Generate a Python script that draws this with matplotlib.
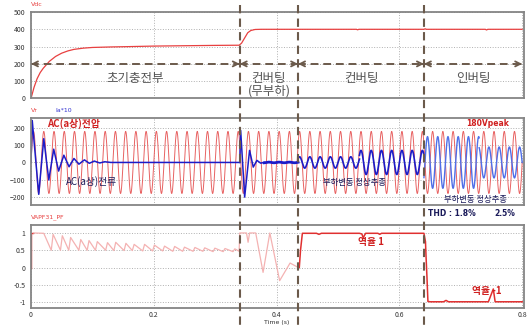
import numpy as np
import matplotlib.pyplot as plt
from matplotlib.lines import Line2D
from matplotlib import transforms

plt.rcParams['font.family'] = ['Noto Sans CJK KR', 'DejaVu Sans']

# 구간 경계 (s)
events = [0.34, 0.435, 0.64]
t_end = 0.8
f_grid = 60.0

# Vdc
vdc_t = [0, 0.005, 0.01, 0.015, 0.02, 0.03, 0.04, 0.05, 0.06, 0.07, 0.085, 0.1, 0.13, 0.16,
         0.2, 0.25, 0.3, 0.339, 0.343, 0.348, 0.353, 0.358, 0.365, 0.375, 0.53, 0.532, 0.534,
         0.64, 0.642, 0.644, 0.74, 0.742, 0.744, 0.8]
vdc_v = [0, 65, 115, 150, 175, 215, 243, 262, 275, 284, 291, 295, 298, 300,
         303, 305, 307, 308, 320, 350, 380, 393, 399, 400, 400, 397, 400,
         400, 403, 400, 400, 396, 400, 400]

# 교류 전압 (a상)
vr_amp = 180

# 전류 과도구간 (극값)
ia_tr1_t = [0, 0.002, 0.0126, 0.0208, 0.029, 0.037, 0.045, 0.0535, 0.062, 0.07, 0.078,
            0.087, 0.095, 0.103, 0.112, 0.12, 0.13, 0.34]
ia_tr1_v = [0, 244, -185, 138, -102, 77, -50, 42, -25, 23, -10, 15, -5, 8, -3, 4, 0, 0]
ia_tr2_t = [0.34, 0.3415, 0.348, 0.356, 0.362, 0.368, 0.374, 0.38]
ia_tr2_v = [0, 186, -201, 70, -27, 12, -4, 0]

# 전류 정상구간 (시작, 끝, 진폭, 위상부호)
ia_seg_start = [0.38, 0.435, 0.535, 0.64, 0.73]
ia_seg_end = [0.435, 0.535, 0.64, 0.73, 0.8]
ia_seg_amp = [2, 33, 70, 150, 90]
ia_seg_sign = [1, 1, 1, -1, -1]
ia_seg_color = ['#1c1cc8', '#1c1cc8', '#1c1cc8', '#4f6fe8', '#4f6fe8']
ia_seg_lw = [2.0, 1.2, 1.2, 1.0, 1.0]

# 역율
pf_peak_t = [0.036, 0.051, 0.0645, 0.081, 0.0945, 0.108, 0.1246, 0.138, 0.1546, 0.168,
             0.185, 0.201, 0.2175, 0.234, 0.25, 0.267, 0.283, 0.2995, 0.316, 0.332]
pf_peak_v = [0.96, 0.92, 0.87, 0.81, 0.78, 0.75, 0.72, 0.73, 0.70, 0.67,
             0.67, 0.65, 0.62, 0.61, 0.59, 0.58, 0.57, 0.56, 0.55, 0.54]
pf_min_v = [0.5, 0.5, 0.5, 0.5, 0.5, 0.5, 0.5, 0.49, 0.49, 0.49,
            0.48, 0.48, 0.48, 0.47, 0.47, 0.47, 0.47, 0.46, 0.46, 0.46]
pf_tr_t = [0.339, 0.340, 0.351, 0.3536, 0.356, 0.366, 0.378, 0.389, 0.405, 0.422, 0.4355]
pf_tr_v = [0.47, 1.0, 1.0, 0.73, 1.0, 1.0, -0.14, 1.0, -0.38, 0.13, 0.0]
pf_on_t = [0.435, 0.437, 0.439, 0.442, 0.465, 0.469, 0.473, 0.535, 0.539, 0.541, 0.545,
           0.565, 0.568, 0.571, 0.640, 0.6425, 0.6435, 0.645, 0.6465, 0.65, 0.672, 0.676,
           0.68, 0.745, 0.753, 0.756, 0.76, 0.8]
pf_on_v = [0.0, 0.0, 0.5, 0.99, 0.99, 0.96, 0.99, 0.99, 0.97, 0.86, 0.99,
           0.99, 0.96, 0.99, 0.99, 0.75, 0.3, -0.3, -0.98, -0.99, -0.99, -0.95,
           -0.99, -0.99, -0.62, -0.99, -0.99, -0.99]
pf_ticks = [-1, -0.5, 0, 0.5, 1]
pf_ticklabels = ['-1', '-0.5', '0', '0.5', '1']

W, H = 528, 326
fig = plt.figure(figsize=(W / 100, H / 100), dpi=100)

def px_axes(x0, y0, x1, y1):
    return fig.add_axes([x0 / W, 1 - y1 / H, (x1 - x0) / W, (y1 - y0) / H])

ax1 = px_axes(31, 12, 524, 98.5)
ax2 = px_axes(31, 118, 524, 205)
ax3 = px_axes(31, 225, 524, 308)

for ax in (ax1, ax2, ax3):
    ax.set_xlim(0, 0.803)
    ax.set_xticks([0, 0.2, 0.4, 0.6, 0.8])
    ax.grid(True, linestyle=':', color='#b0b0b0', linewidth=0.7)
    ax.tick_params(length=0, labelsize=5, labelcolor='#333333', pad=4)
    ax.tick_params(axis='x', pad=2)
    for s in ax.spines.values():
        s.set_color('#858585')
        s.set_linewidth(1.3)
ax1.tick_params(labelbottom=False)
ax2.tick_params(labelbottom=False)

# Vdc
ax1.plot(vdc_t, vdc_v, color='#e84040', lw=0.9)
ax1.set_ylim(0, 500)
ax1.set_yticks([0, 100, 200, 300, 400, 500])

brown = '#6b5a4b'
bounds = [0] + events + [t_end]
for a, b in zip(bounds[:-1], bounds[1:]):
    ax1.plot([a, b], [200, 200], color=brown, lw=1.4, ls=(0, (4, 2.5)))
    for x, d in ((a, -1), (b, 1)):
        ax1.annotate('', xy=(x, 200), xytext=(x - d * 0.004, 200),
                     arrowprops=dict(arrowstyle='->', color=brown, lw=1.3,
                                     mutation_scale=9, shrinkA=0, shrinkB=0))
txt = dict(color='#555555', fontsize=9, ha='center', va='center')
ax1.text((bounds[0] + bounds[1]) / 2, 115, '초기충전부', **txt)
ax1.text((bounds[1] + bounds[2]) / 2, 118, '컨버팅', **txt)
ax1.text((bounds[1] + bounds[2]) / 2, 45, '(무부하)', **txt)
ax1.text((bounds[2] + bounds[3]) / 2, 118, '컨버팅', **txt)
ax1.text((bounds[3] + bounds[4]) / 2, 118, '인버팅', **txt)

# Vr, Ia*10
t = np.linspace(0, t_end, 16001)
ax2.plot(t, vr_amp * np.sin(2 * np.pi * f_grid * t), color='#e86262', lw=0.7)
ax2.plot(ia_tr1_t, ia_tr1_v, color='#1c1cc8', lw=1.1)
ax2.plot(ia_tr2_t, ia_tr2_v, color='#1c1cc8', lw=1.1)
for a, b, amp, sg, c, lw in zip(ia_seg_start, ia_seg_end, ia_seg_amp, ia_seg_sign,
                               ia_seg_color, ia_seg_lw):
    tt = t[(t >= a) & (t <= b)]
    ax2.plot(tt, sg * amp * np.sin(2 * np.pi * f_grid * tt), color=c, lw=lw)
ax2.set_ylim(-247, 258)
ax2.set_yticks([-200, -100, 0, 100, 200])
ax2.text(0.026, 226, 'AC(a상)전압', color='#d02020', fontsize=7, fontweight='bold', va='center')
ax2.text(0.057, -112, 'AC(a상)전류', color='#1a1a5a', fontsize=7, va='center')
ax2.text(0.475, -116, '부하변동 정상추종', color='#1a1a5a', fontsize=6, va='center')
ax2.text(0.672, -215, '부하변동 정상추종', color='#1a1a5a', fontsize=6, va='center')
ax2.text(0.708, 226, '180Vpeak', color='#d02020', fontsize=5.5, fontweight='bold', va='center',
         family='DejaVu Sans')

# PF
saw_t, saw_v = [0, 0, 0.004], [0, 1, 1]
ax3.plot(saw_t, saw_v, color='#e03030', lw=1.0)
pink_t, pink_v = [0.004, 0.0208], [1.0, 0.99]
for pt, pv, mv in zip(pf_peak_t, pf_peak_v, pf_min_v):
    pink_t += [pt - 0.003, pt]
    pink_v += [mv, pv]
pink_t += pf_tr_t
pink_v += pf_tr_v
ax3.plot(pink_t, pink_v, color='#f4b2b2', lw=0.9)
ax3.plot(pf_on_t, pf_on_v, color='#e03030', lw=1.1)
ax3.set_ylim(-1.17, 1.23)
ax3.set_yticks(pf_ticks)
ax3.set_yticklabels(pf_ticklabels)
ax3.set_xticklabels(['0', '0.2', '0.4', '0.6', '0.8'])
ax3.text(0.532, 0.73, '역율 1', color='#d02020', fontsize=7, fontweight='bold', va='center')
ax3.text(0.718, -0.67, '역율 -1', color='#d02020', fontsize=7, fontweight='bold', va='center')

# 신호 이름
fig.text(31 / W, 1 - 4 / H, 'Vdc', color='#e84040', fontsize=4.5, va='center', family='DejaVu Sans')
fig.text(31 / W, 1 - 110 / H, 'Vr', color='#e84040', fontsize=4.5, va='center', family='DejaVu Sans')
fig.text(55 / W, 1 - 110 / H, 'Ia*10', color='#3030d0', fontsize=4.5, va='center', family='DejaVu Sans')
fig.text(31 / W, 1 - 217 / H, 'VAPF31_PF', color='#e84040', fontsize=4.5, va='center',
         family='DejaVu Sans')
fig.text(277 / W, 1 - 322.5 / H, 'Time (s)', color='#333333', fontsize=4.5, ha='center',
         va='center', family='DejaVu Sans')
fig.text(428 / W, 1 - 213 / H, 'THD : 1.8%', color='#1a1a5a', fontsize=5.5, fontweight='bold',
         va='center', family='DejaVu Sans')
fig.text(494 / W, 1 - 213 / H, '2.5%', color='#1a1a5a', fontsize=5.5, fontweight='bold',
         va='center', family='DejaVu Sans')

# 구간 경계 점선
tr = transforms.blended_transform_factory(ax1.transData, fig.transFigure)
for e in events:
    fig.add_artist(Line2D([e, e], [1 - 5 / H, 0], transform=tr, color=brown, lw=1.5,
                          ls=(0, (4, 2.5))))

fig.savefig('out.png', dpi=100)
